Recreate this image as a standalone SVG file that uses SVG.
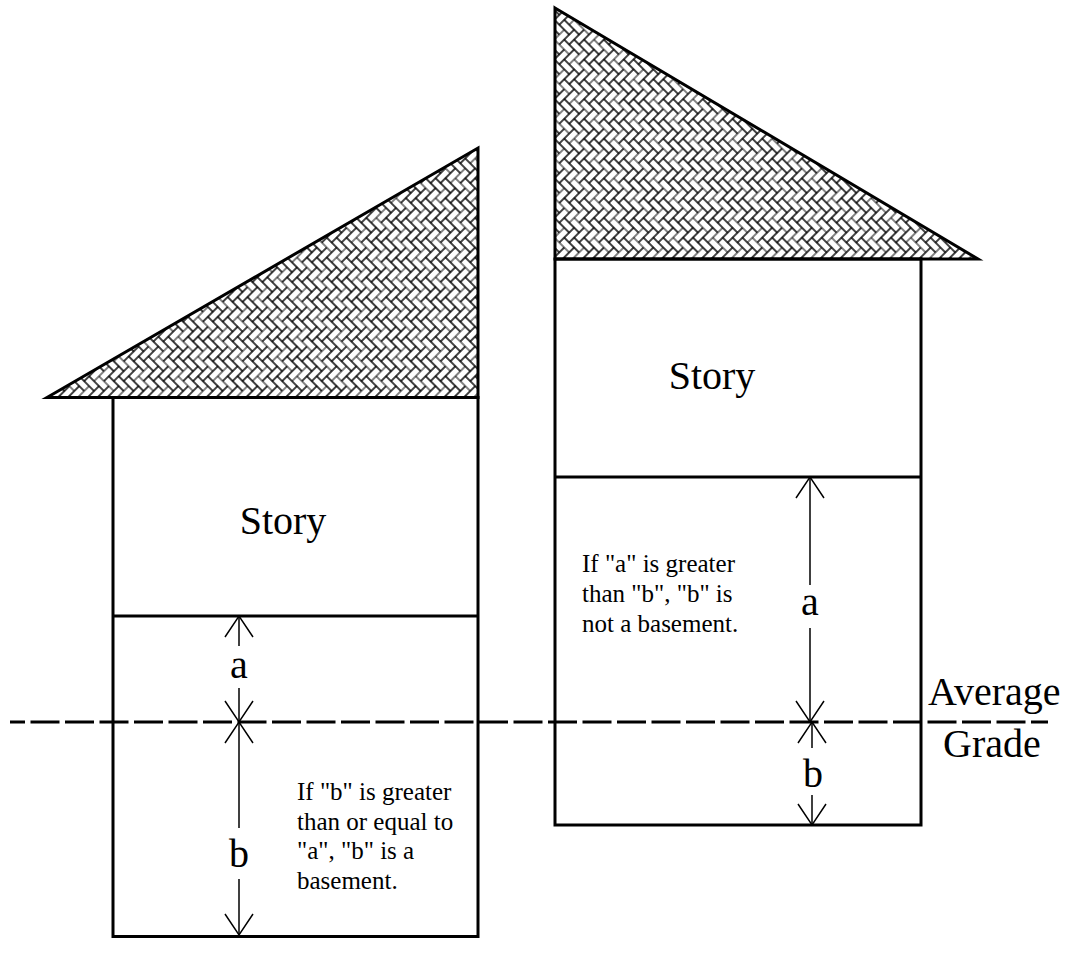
<svg xmlns="http://www.w3.org/2000/svg" width="1073" height="966" viewBox="0 0 1073 966">
  <style>
    .wall { fill: none; stroke: #000; stroke-width: 3; stroke-linejoin: miter; }
    .roof { fill: url(#herring); stroke: #000; stroke-width: 3; stroke-linejoin: miter; }
    .dim { fill: none; stroke: #000; stroke-width: 1.5; }
    .grade { fill: none; stroke: #000; stroke-width: 3; stroke-dasharray: 29 5.5; stroke-dashoffset: 14; }
    .big { font-family: "Liberation Serif", "Times New Roman", serif; font-size: 40px; fill: #000; }
    .note { font-family: "Liberation Serif", "Times New Roman", serif; font-size: 25px; fill: #000; }
  </style>
  <defs>
    <pattern id="herring" patternUnits="userSpaceOnUse" width="4" height="4" patternTransform="rotate(-45) scale(7)">
      <rect x="0" y="0" width="4" height="4" fill="#fff"/>
      <g fill="none" stroke="#000" stroke-width="0.14">
        <rect x="0" y="0" width="2" height="1"/>
        <rect x="1" y="1" width="2" height="1"/>
        <rect x="2" y="2" width="2" height="1"/>
        <rect x="3" y="3" width="2" height="1"/>
        <rect x="-1" y="3" width="2" height="1"/>
        <rect x="2" y="-1" width="1" height="2"/>
        <rect x="3" y="0" width="1" height="2"/>
        <rect x="0" y="1" width="1" height="2"/>
        <rect x="1" y="2" width="1" height="2"/>
        <rect x="2" y="3" width="1" height="2"/>
      </g>
    </pattern>
    <marker id="ah" markerUnits="userSpaceOnUse" markerWidth="30" markerHeight="32" viewBox="-24 -16 26 32" refX="0" refY="0" orient="auto-start-reverse" overflow="visible">
      <path d="M-21,-14 L0,0 L-21,14" fill="none" stroke="#000" stroke-width="1.5"/>
    </marker>
  </defs>

  <rect x="0" y="0" width="1073" height="966" fill="#fff"/>

  <g id="house-left">
    <polygon class="roof" points="47,397.5 478,148 478,397.5"/>
    <rect class="wall" x="113" y="397.5" width="365" height="539"/>
    <line class="wall" x1="113" y1="616" x2="478" y2="616"/>
    <text class="big" x="283" y="534" text-anchor="middle">Story</text>
    <text class="note" x="297" y="800">If "b" is greater</text>
    <text class="note" x="297" y="829.5">than or equal to</text>
    <text class="note" x="297" y="859">"a", "b" is a</text>
    <text class="note" x="297" y="888.5">basement.</text>
  </g>

  <g id="house-right">
    <polygon class="roof" points="555,8 978,259 555,259"/>
    <rect class="wall" x="555" y="259" width="366" height="566"/>
    <line class="wall" x1="555" y1="477" x2="921" y2="477"/>
    <text class="big" x="712" y="389" text-anchor="middle">Story</text>
    <text class="note" x="582" y="572">If "a" is greater</text>
    <text class="note" x="582" y="602">than "b", "b" is</text>
    <text class="note" x="582" y="632">not a basement.</text>
  </g>

  <g id="grade">
    <line class="grade" x1="10" y1="722" x2="1048" y2="722"/>
    <text class="big" x="928" y="705">Average</text>
    <text class="big" x="943" y="757">Grade</text>
  </g>

  <g id="connectors">
    <line class="dim" x1="239" y1="616" x2="239" y2="646" marker-start="url(#ah)"/>
    <line class="dim" x1="239" y1="688" x2="239" y2="722" marker-end="url(#ah)"/>
    <line class="dim" x1="239" y1="722" x2="239" y2="828" marker-start="url(#ah)"/>
    <line class="dim" x1="239" y1="879" x2="239" y2="935" marker-end="url(#ah)"/>
    <line class="dim" x1="810" y1="477" x2="810" y2="585" marker-start="url(#ah)"/>
    <line class="dim" x1="810" y1="628" x2="810" y2="722" marker-end="url(#ah)"/>
    <line class="dim" x1="812" y1="722" x2="812" y2="748" marker-start="url(#ah)"/>
    <line class="dim" x1="812" y1="795" x2="812" y2="825" marker-end="url(#ah)"/>
  </g>

  <g id="labels">
    <text class="big" x="239" y="678" text-anchor="middle">a</text>
    <text class="big" x="239" y="867" text-anchor="middle">b</text>
    <text class="big" x="810" y="615" text-anchor="middle">a</text>
    <text class="big" x="813" y="787" text-anchor="middle">b</text>
  </g>
</svg>
